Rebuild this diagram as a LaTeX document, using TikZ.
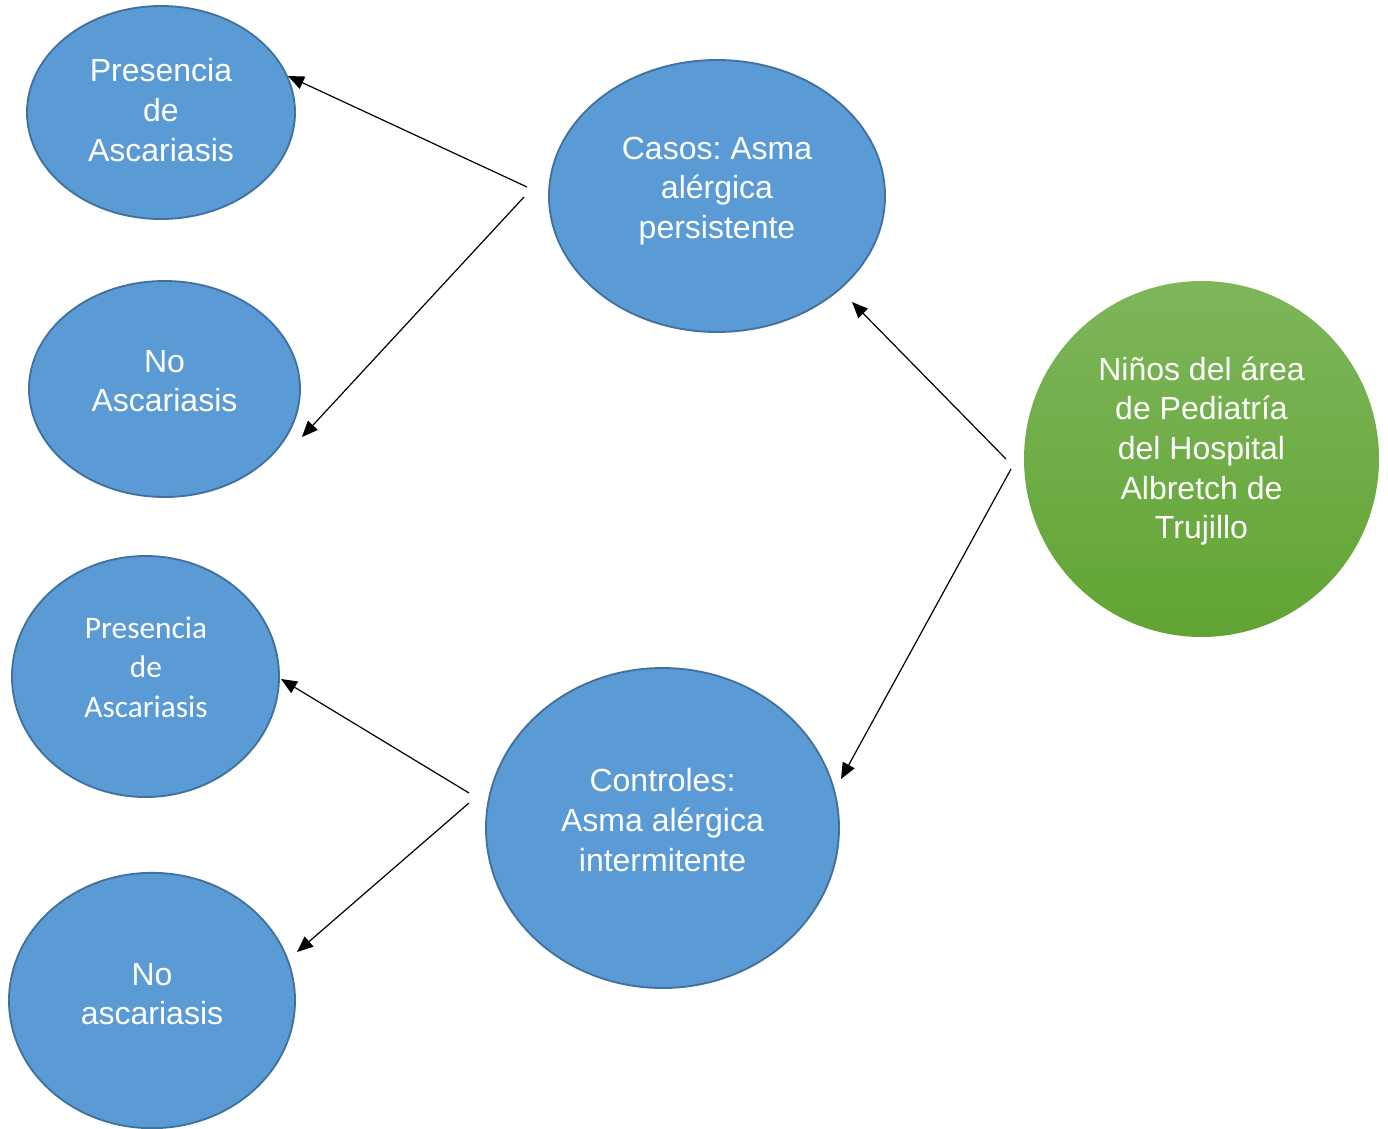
\documentclass[tikz,border=0pt]{standalone}
\usepackage{fontspec}
\setmainfont{Liberation Sans}
\newfontfamily\calib{Carlito}
\usetikzlibrary{shapes.geometric,arrows.meta}
\definecolor{blobfill}{HTML}{5B9BD5}
\definecolor{blobline}{HTML}{41719C}
\definecolor{gtop}{HTML}{7EB65B}
\definecolor{gbot}{HTML}{61A433}
\tikzset{
  blob/.style={ellipse, draw=blobline, line width=1.4pt, fill=blobfill, inner sep=0pt},
  gblob/.style={ellipse, top color=gtop, bottom color=gbot, draw=none, inner sep=0pt},
  txt/.style={text=white, align=center, inner sep=0pt, font=\frenchspacing\fontsize{24}{29.7}\selectfont},
  ctxt/.style={text=white, align=center, inner sep=0pt, font=\calib\fontsize{23.5}{29.5}\selectfont},
  arr/.style={-{Triangle[length=12pt,width=10pt]}, line width=0.9pt, black}
}
\begin{document}
\begin{tikzpicture}[x=0.75pt,y=-0.75pt]
\clip (0,0) rectangle (1388,1128);
\useasboundingbox (0,0) rectangle (1388,1128);
% ellipses
\node[blob, minimum width=201pt, minimum height=159.75pt] (e1) at (161,112.5) {};
\node[blob, minimum width=203.25pt, minimum height=162pt] (e2) at (164.5,389) {};
\node[blob, minimum width=200.25pt, minimum height=180.75pt] (e3) at (145.5,676.5) {};
\node[blob, minimum width=214.5pt, minimum height=191.5pt] (e4) at (152,1000.5) {};
\node[blob, minimum width=252pt, minimum height=204pt] (casos) at (717,196) {};
\node[blob, minimum width=264.75pt, minimum height=240pt] (ctrl) at (662.5,828) {};
\node[gblob, minimum width=266.25pt, minimum height=267pt] (ninos) at (1201.5,459) {};
% texts
\node[txt] (t1) at (161,110) {Presencia\\de\\Ascariasis};
\node[txt] (t2) at (164.5,381) {No\\Ascariasis};
\node[ctxt] (t3) at (146,667) {Presencia\\de\\Ascariasis};
\node[txt] (t4) at (152,994) {No\\ascariasis};
\node[txt] (t5) at (717,191) {Casos: Asma\\alérgica\\persistente};
\node[txt] (t6) at (662.5,820) {Controles:\\Asma alérgica\\intermitente};
\node[txt] (t7) at (1201.5,451) {Niños del área\\de Pediatría\\del Hospital\\Albretch de\\Trujillo};
% arrow end points
\coordinate (a1s) at (527,187); \coordinate (a1e) at (288,76);
\coordinate (a2s) at (524,197); \coordinate (a2e) at (302,437);
\coordinate (a3s) at (1006,459); \coordinate (a3e) at (852,302);
\coordinate (a4s) at (1011,469); \coordinate (a4e) at (841,779);
\coordinate (a5s) at (469,793); \coordinate (a5e) at (281,679);
\coordinate (a6s) at (469,803); \coordinate (a6e) at (297,952);
\draw[arr] (a1s) -- (a1e);
\draw[arr] (a2s) -- (a2e);
\draw[arr] (a3s) -- (a3e);
\draw[arr] (a4s) -- (a4e);
\draw[arr] (a5s) -- (a5e);
\draw[arr] (a6s) -- (a6e);
\end{tikzpicture}
\end{document}
